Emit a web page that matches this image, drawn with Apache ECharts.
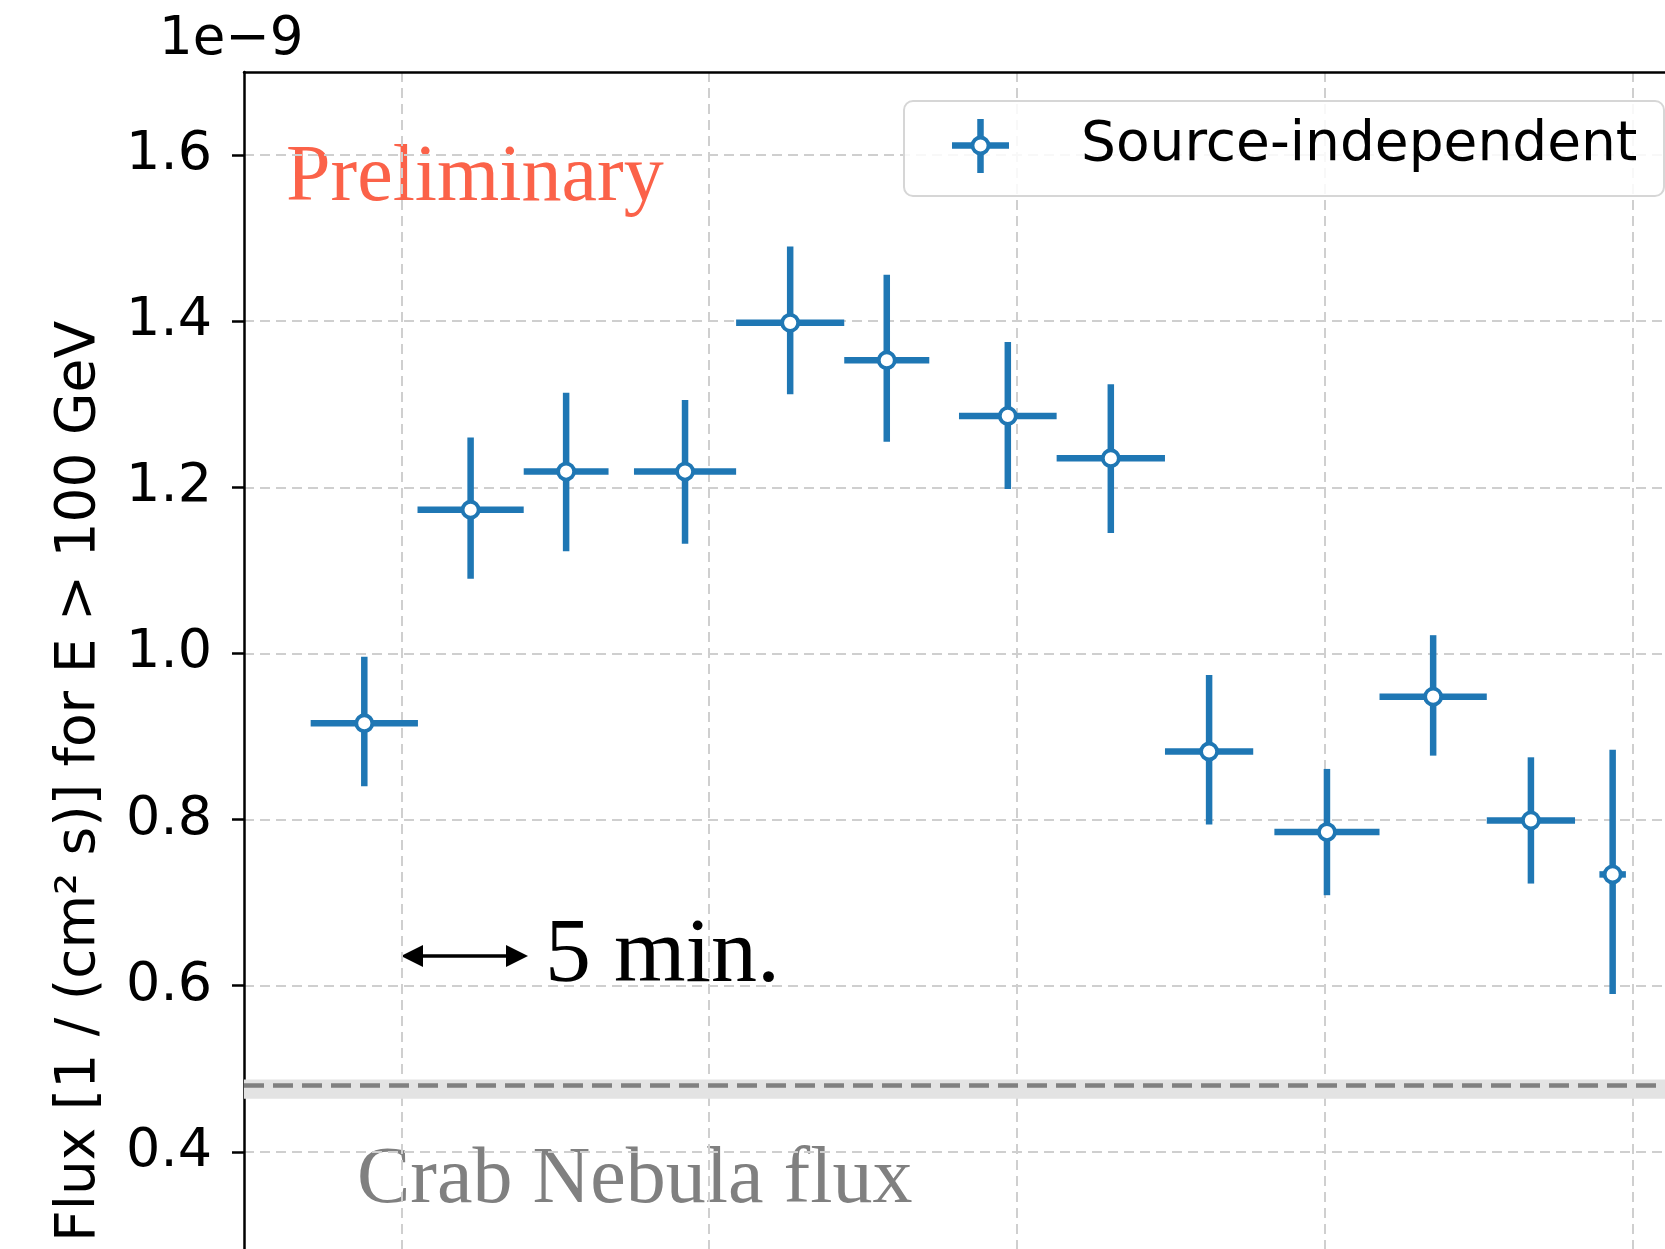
<!DOCTYPE html>
<html><head><meta charset="utf-8">
<script src="https://cdn.jsdelivr.net/npm/echarts@6/dist/echarts.min.js"></script>
<style>html,body{margin:0;padding:0;background:#fff}#c{width:1665px;height:1249px}</style>
</head><body><div id="c"></div>
<script>
// time in minutes (bin centres and half widths), flux in 1e-9 / (cm^2 s)
const binCenter    = [-1.74, 3.235, 7.705, 13.27, 18.19, 22.71, 28.375, 33.195, 37.795, 43.31, 48.28, 52.855, 56.68];
const binHalfWidth = [2.51, 2.485, 1.985, 2.39, 2.53, 1.99, 2.285, 2.535, 2.065, 2.46, 2.51, 2.065, 0.62];
const flux         = [0.916, 1.173, 1.219, 1.219, 1.398, 1.353, 1.286, 1.235, 0.882, 0.785, 0.948, 0.799, 0.734];
const fluxErrUp    = [0.080, 0.087, 0.095, 0.086, 0.092, 0.103, 0.089, 0.089, 0.092, 0.076, 0.074, 0.076, 0.150];
const fluxErrDown  = [0.076, 0.083, 0.096, 0.087, 0.086, 0.098, 0.088, 0.090, 0.088, 0.076, 0.071, 0.076, 0.144];
const crabFlux = 0.478, crabFluxLow = 0.464, crabFluxHigh = 0.487;
const xGrid = [0, 14.4, 28.8, 43.2, 57.6];
const yTicks = {min: 0.2, max: 1.7, interval: 0.2};
const seriesName = 'Source-independent';

const BLUE = '#1f77b4';
const chart = echarts.init(document.getElementById('c'), null, {renderer: 'canvas'});
const errData = binCenter.map((c, i) => [c, flux[i], binHalfWidth[i], flux[i] - fluxErrDown[i], flux[i] + fluxErrUp[i]]);
const ptData = binCenter.map((c, i) => [c, flux[i]]);
const gridDash = {color: '#cfcfcf', width: 2, type: [10, 6]};

chart.setOption({
  animation: false,
  grid: {left: 244, top: 72, width: 1446, height: 1246, show: false, containLabel: false, outerBoundsMode: 'none'},
  xAxis: [{
    type: 'value', min: -7.37, max: 60.3,
    axisLine: {show: false, onZero: false},
    axisTick: {show: false, customValues: xGrid},
    axisLabel: {show: false, customValues: xGrid},
    splitLine: {show: true, lineStyle: gridDash}
  }, {
    // top spine
    type: 'value', position: 'top', min: -7.37, max: 60.3,
    axisLine: {show: true, onZero: false, lineStyle: {color: '#000', width: 2.5}},
    axisTick: {show: false}, axisLabel: {show: false}, splitLine: {show: false}
  }],
  yAxis: {
    type: 'value', min: yTicks.min, max: yTicks.max, interval: yTicks.interval,
    axisLine: {show: true, onZero: false, lineStyle: {color: '#000', width: 2.5}},
    axisTick: {show: true, inside: false, length: 12, lineStyle: {color: '#000', width: 2.5}},
    axisLabel: {show: true, showMaxLabel: false, margin: 32, fontSize: 54, color: '#000', fontFamily: 'DejaVu Sans',
      formatter: v => v.toFixed(1)},
    splitLine: {show: true, showMaxLine: false, lineStyle: gridDash}
  },
  series: [
    {
      type: 'line', data: [], silent: true,
      markArea: {silent: true, itemStyle: {color: '#e3e3e3'}, data: [[{yAxis: crabFluxLow}, {yAxis: crabFluxHigh}]]},
      markLine: {silent: true, symbol: 'none', label: {show: false},
        lineStyle: {color: '#808080', width: 4.5, type: [20, 9]}, data: [{yAxis: crabFlux}]}
    },
    {
      name: seriesName, type: 'custom', data: errData, z: 3,
      renderItem: (params, api) => {
        const x = api.value(0), y = api.value(1), hw = api.value(2), lo = api.value(3), hi = api.value(4);
        const pL = api.coord([x - hw, y]), pR = api.coord([x + hw, y]);
        const pT = api.coord([x, hi]), pB = api.coord([x, lo]);
        const st = {stroke: BLUE, lineWidth: 6.5, lineCap: 'butt'};
        return {type: 'group', children: [
          {type: 'line', shape: {x1: pL[0], y1: pL[1], x2: pR[0], y2: pR[1]}, style: st},
          {type: 'line', shape: {x1: pT[0], y1: pT[1], x2: pB[0], y2: pB[1]}, style: st}
        ]};
      }
    },
    {
      name: seriesName, type: 'scatter', data: ptData, z: 4, symbol: 'circle', symbolSize: 16,
      itemStyle: {color: '#fff', borderColor: BLUE, borderWidth: 3.8, opacity: 1}
    }
  ],
  graphic: [
    {type: 'text', x: 159, y: 40, style: {text: '1e\u22129', fontSize: 53, fontFamily: 'DejaVu Sans', fill: '#000', verticalAlign: 'middle', align: 'left'}},
    {type: 'text', x: 80, y: 1242, rotation: Math.PI / 2,
      style: {text: 'Flux [1 / (cm\u00b2 s)] for E > 100 GeV', fontSize: 55, fontFamily: 'DejaVu Sans', fill: '#000', align: 'left', verticalAlign: 'middle'}},
    {type: 'text', x: 286, y: 179, style: {text: 'Preliminary', fontSize: 80, fontFamily: 'Liberation Serif', fill: '#fb6249', align: 'left', verticalAlign: 'middle'}},
    {type: 'text', x: 545, y: 957, style: {text: '5 min.', fontSize: 92, fontFamily: 'Liberation Serif', fill: '#000', align: 'left', verticalAlign: 'middle'}},
    {type: 'text', x: 357, y: 1181, style: {text: 'Crab Nebula flux', fontSize: 80, fontFamily: 'Liberation Serif', fill: '#808080', align: 'left', verticalAlign: 'middle'}},
    // double arrow
    {type: 'line', shape: {x1: 415, y1: 956, x2: 514, y2: 956}, style: {stroke: '#000', lineWidth: 3.5}},
    {type: 'polygon', shape: {points: [[401, 956], [423, 945], [423, 967]]}, style: {fill: '#000'}},
    {type: 'polygon', shape: {points: [[528, 956], [506, 945], [506, 967]]}, style: {fill: '#000'}},
    // legend
    {type: 'rect', shape: {x: 904, y: 101, width: 760, height: 95, r: 9}, style: {fill: 'rgba(255,255,255,0.85)', stroke: '#d6d6d6', lineWidth: 2}, z: 10},
    {type: 'line', shape: {x1: 952, y1: 145.5, x2: 1009, y2: 145.5}, style: {stroke: BLUE, lineWidth: 6.5}, z: 11},
    {type: 'line', shape: {x1: 980.5, y1: 119, x2: 980.5, y2: 173}, style: {stroke: BLUE, lineWidth: 6.5}, z: 11},
    {type: 'circle', shape: {cx: 980.5, cy: 145.5, r: 8}, style: {fill: '#fff', stroke: BLUE, lineWidth: 3.8}, z: 12},
    {type: 'text', x: 1081, y: 146, z: 12, style: {text: seriesName, fontSize: 55, fontFamily: 'DejaVu Sans', fill: '#000', align: 'left', verticalAlign: 'middle'}}
  ]
});
</script></body></html>
